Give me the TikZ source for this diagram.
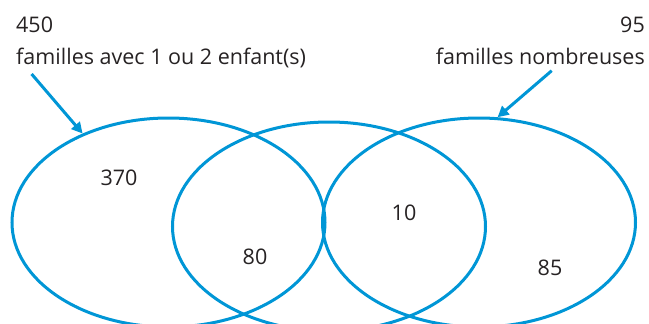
\documentclass[tikz,border=0pt]{standalone}
\usepackage{fontspec}
\setmainfont{Open Sans}
\usepackage{xcolor}
\usepackage{tikz}
\usetikzlibrary{shapes.geometric,arrows.meta}
\definecolor{vennblue}{RGB}{0,150,214}
\definecolor{textgrey}{RGB}{38,34,35}

\begin{document}
\begin{tikzpicture}[x=1pt, y=-1pt, text=textgrey,
	vennset/.style={draw=vennblue, line width=3pt, ellipse, minimum width=313pt, minimum height=209pt, inner sep=0pt},
	tally/.style={font=\fontsize{21.5}{33}\selectfont, inner sep=0pt},
	setlabel/.style={font=\fontsize{21.5}{32}\selectfont, inner sep=0pt},
	pointer/.style={draw=vennblue, line width=3pt, -{Triangle[length=11pt,width=11pt]}}]
	\useasboundingbox (0,0) rectangle (649,324);
	\node[vennset] (small) at (168.5,222.5) {};
	\node[vennset] (both) at (329,226.5) {};
	\node[vennset] (large) at (479,222.5) {};
	\node[setlabel, align=left, anchor=north west] (lblsmall) at (16,17) {450\\familles avec 1 ou 2 enfant(s)};
	\node[setlabel, align=right, anchor=north east] (lbllarge) at (645,17) {95\\familles nombreuses};
	\node[tally] (n370) at (119,178) {370};
	\node[tally] (n80) at (255,257) {80};
	\node[tally] (n10) at (404,213) {10};
	\node[tally] (n85) at (550,268) {85};
	\coordinate (fromsmall) at (31.6,74);
	\coordinate (fromlarge) at (551.7,70.7);
	\draw[pointer] (fromsmall) -- (small.134);
	\draw[pointer] (fromlarge) -- (large.80);
\end{tikzpicture}
\end{document}
